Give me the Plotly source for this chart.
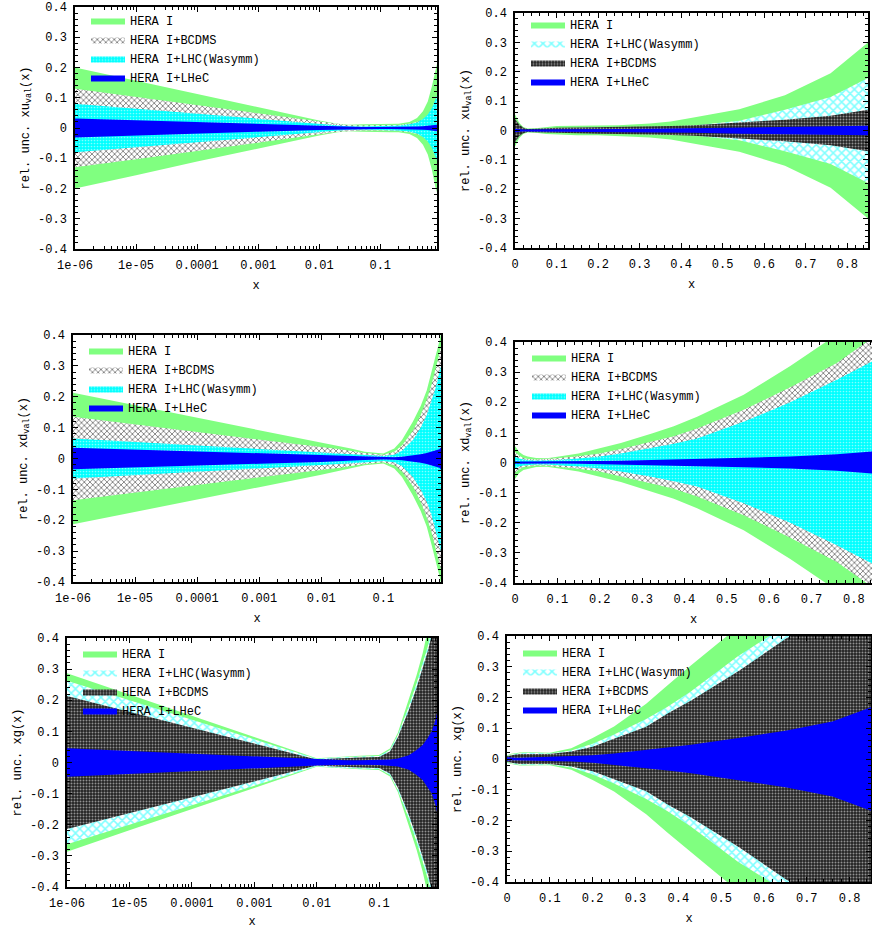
import numpy as np
import plotly.graph_objects as go

# ---------------- data (relative uncertainty half-widths, symmetric bands) -------------
X_LOG = [1e-6, 1e-5, 1e-4, 1e-3, 1e-2, 0.02, 0.03, 0.05, 0.1, 0.15, 0.2, 0.3, 0.4, 0.5, 0.6, 0.7, 0.8, 0.85]
X_LIN = [0.0, 0.005, 0.01, 0.02, 0.03, 0.05, 0.075, 0.1, 0.15, 0.2, 0.25, 0.325, 0.375, 0.43, 0.54, 0.65, 0.76, 0.85]

# panel 1: xu_val, log x
xu_log_hera = [0.200, 0.156, 0.111, 0.067, 0.025, 0.014, 0.011, 0.012, 0.014, 0.014, 0.014, 0.020, 0.033, 0.055, 0.088, 0.137, 0.195, 0.212]
xu_log_bcdms = [0.130, 0.103, 0.076, 0.049, 0.021, 0.012, 0.009, 0.008, 0.008, 0.009, 0.010, 0.014, 0.020, 0.028, 0.038, 0.050, 0.065, 0.072]
xu_log_lhc = [0.080, 0.0635, 0.047, 0.031, 0.015, 0.009, 0.006, 0.005, 0.006, 0.007, 0.008, 0.012, 0.018, 0.030, 0.045, 0.065, 0.095, 0.108]
xu_log_lhec = [0.031, 0.025, 0.0185, 0.012, 0.0065, 0.005, 0.004, 0.0035, 0.003, 0.003, 0.003, 0.004, 0.005, 0.006, 0.007, 0.008, 0.010, 0.011]

# panel 2: xu_val, linear x
xu_lin_hera = [0.055, 0.040, 0.026, 0.012, 0.007, 0.008, 0.012, 0.015, 0.016, 0.016, 0.018, 0.024, 0.031, 0.044, 0.072, 0.120, 0.195, 0.300]
xu_lin_lhc = [0.035, 0.025, 0.016, 0.007, 0.004, 0.005, 0.007, 0.008, 0.009, 0.010, 0.011, 0.012, 0.014, 0.017, 0.033, 0.071, 0.114, 0.179]
xu_lin_bcdms = [0.040, 0.030, 0.020, 0.009, 0.005, 0.006, 0.008, 0.009, 0.010, 0.011, 0.012, 0.013, 0.015, 0.018, 0.027, 0.037, 0.050, 0.071]
xu_lin_lhec = [0.006, 0.005, 0.004, 0.003, 0.003, 0.003, 0.003, 0.004, 0.004, 0.004, 0.005, 0.006, 0.007, 0.008, 0.011, 0.013, 0.015, 0.016]

# panel 3: xd_val, log x
xd_log_hera = [0.213, 0.173, 0.133, 0.093, 0.053, 0.040, 0.032, 0.022, 0.016, 0.032, 0.060, 0.120, 0.170, 0.220, 0.280, 0.330, 0.380, 0.405]
xd_log_bcdms = [0.135, 0.110, 0.086, 0.062, 0.037, 0.030, 0.025, 0.018, 0.012, 0.022, 0.042, 0.090, 0.140, 0.190, 0.240, 0.290, 0.340, 0.360]
xd_log_lhc = [0.065, 0.054, 0.043, 0.032, 0.021, 0.018, 0.016, 0.013, 0.008, 0.012, 0.025, 0.060, 0.100, 0.140, 0.185, 0.230, 0.280, 0.300]
xd_log_lhec = [0.035, 0.029, 0.023, 0.017, 0.011, 0.009, 0.007, 0.005, 0.003, 0.004, 0.006, 0.010, 0.014, 0.018, 0.022, 0.026, 0.030, 0.036]

# panel 4: xd_val, linear x
xd_lin_hera = [0.055, 0.045, 0.035, 0.025, 0.020, 0.015, 0.014, 0.019, 0.030, 0.047, 0.065, 0.097, 0.120, 0.152, 0.225, 0.320, 0.425, 0.500]
xd_lin_bcdms = [0.035, 0.028, 0.022, 0.015, 0.012, 0.010, 0.011, 0.014, 0.021, 0.030, 0.045, 0.070, 0.087, 0.113, 0.175, 0.250, 0.330, 0.420]
xd_lin_lhc = [0.020, 0.016, 0.013, 0.010, 0.008, 0.007, 0.007, 0.008, 0.013, 0.020, 0.030, 0.048, 0.062, 0.080, 0.135, 0.200, 0.275, 0.340]
xd_lin_lhec = [0.004, 0.003, 0.003, 0.003, 0.003, 0.003, 0.003, 0.003, 0.004, 0.005, 0.006, 0.008, 0.010, 0.012, 0.016, 0.020, 0.027, 0.037]

# panel 5: xg, log x
xg_log_hera = [0.287, 0.218, 0.149, 0.082, 0.014, 0.018, 0.020, 0.022, 0.024, 0.045, 0.095, 0.200, 0.280, 0.350, 0.420, 0.480, 0.530, 0.560]
xg_log_lhc = [0.263, 0.200, 0.137, 0.074, 0.012, 0.016, 0.018, 0.019, 0.021, 0.040, 0.088, 0.180, 0.255, 0.315, 0.370, 0.430, 0.490, 0.520]
xg_log_bcdms = [0.214, 0.163, 0.112, 0.061, 0.010, 0.013, 0.015, 0.016, 0.018, 0.035, 0.080, 0.168, 0.240, 0.300, 0.355, 0.410, 0.470, 0.500]
xg_log_lhec = [0.046, 0.037, 0.028, 0.019, 0.010, 0.008, 0.007, 0.007, 0.008, 0.010, 0.013, 0.023, 0.040, 0.056, 0.078, 0.100, 0.135, 0.158]

# panel 6: xg, linear x
xg_lin_hera = [0.012, 0.015, 0.017, 0.019, 0.021, 0.022, 0.021, 0.020, 0.035, 0.068, 0.106, 0.180, 0.240, 0.305, 0.430, 0.550, 0.660, 0.750]
xg_lin_lhc = [0.010, 0.013, 0.015, 0.017, 0.019, 0.020, 0.019, 0.018, 0.028, 0.050, 0.080, 0.130, 0.170, 0.220, 0.335, 0.430, 0.530, 0.620]
xg_lin_bcdms = [0.009, 0.011, 0.013, 0.015, 0.016, 0.017, 0.016, 0.016, 0.024, 0.040, 0.065, 0.105, 0.148, 0.190, 0.285, 0.390, 0.480, 0.570]
xg_lin_lhec = [0.006, 0.005, 0.004, 0.004, 0.004, 0.005, 0.005, 0.006, 0.008, 0.012, 0.018, 0.030, 0.037, 0.046, 0.068, 0.092, 0.122, 0.168]

# tick labels
Y_TICKVALS = [-0.4, -0.3, -0.2, -0.1, 0, 0.1, 0.2, 0.3, 0.4]
Y_TICKTEXT = ["-0.4", "-0.3", "-0.2", "-0.1", "0", "0.1", "0.2", "0.3", "0.4"]
XLOG_TICKVALS = [1e-6, 1e-5, 1e-4, 1e-3, 1e-2, 1e-1]
XLOG_TICKTEXT = ["1e-06", "1e-05", "0.0001", "0.001", "0.01", "0.1"]
XLIN_TICKVALS = [0, 0.1, 0.2, 0.3, 0.4, 0.5, 0.6, 0.7, 0.8]
XLIN_TICKTEXT = ["0", "0.1", "0.2", "0.3", "0.4", "0.5", "0.6", "0.7", "0.8"]

LABEL_HERA = "HERA I"
LABEL_BCDMS = "HERA I+BCDMS"
LABEL_LHC = "HERA I+LHC(Wasymm)"
LABEL_LHEC = "HERA I+LHeC"

# ---------------- styles ----------------
GREEN = "#80ff80"
CYAN = "#00ffff"
BLUE = "#0000ff"
FONT = "Liberation Mono, Courier New, monospace"

STY_HERA = dict(fillcolor=GREEN)
STY_LHEC = dict(fillcolor=BLUE)
STY_BCDMS_A = dict(fillcolor="white", fillpattern=dict(shape="x", fgcolor="black", bgcolor="white", size=4, solidity=0.4))
STY_LHC_A = dict(fillcolor=CYAN, fillpattern=dict(shape=".", fgcolor="white", bgcolor=CYAN, size=3, solidity=0.25))
STY_LHC_B = dict(fillcolor="white", fillpattern=dict(shape="x", fgcolor=CYAN, bgcolor="white", size=6, solidity=0.45))
STY_BCDMS_B = dict(fillcolor="#444444", fillpattern=dict(shape=".", fgcolor="white", bgcolor="#222222", size=3, solidity=0.35))

# panels: (xs, log?, ylabel, series in draw order, pixel box l,r,t,b, legend px x,y, xmax)
PANELS = [
    (X_LOG, True, "rel. unc. xu<sub>val</sub>(x)",
     [(LABEL_HERA, xu_log_hera, STY_HERA), (LABEL_BCDMS, xu_log_bcdms, STY_BCDMS_A),
      (LABEL_LHC, xu_log_lhc, STY_LHC_A), (LABEL_LHEC, xu_log_lhec, STY_LHEC)],
     (75, 437, 7, 249), (86, 6), 0.85),
    (X_LIN, False, "rel. unc. xu<sub>val</sub>(x)",
     [(LABEL_HERA, xu_lin_hera, STY_HERA), (LABEL_LHC, xu_lin_lhc, STY_LHC_B),
      (LABEL_BCDMS, xu_lin_bcdms, STY_BCDMS_B), (LABEL_LHEC, xu_lin_lhec, STY_LHEC)],
     (515, 868, 13, 248), (526, 10), 0.85),
    (X_LOG, True, "rel. unc. xd<sub>val</sub>(x)",
     [(LABEL_HERA, xd_log_hera, STY_HERA), (LABEL_BCDMS, xd_log_bcdms, STY_BCDMS_A),
      (LABEL_LHC, xd_log_lhc, STY_LHC_A), (LABEL_LHEC, xd_log_lhec, STY_LHEC)],
     (73, 441, 335, 582), (84, 336), 0.85),
    (X_LIN, False, "rel. unc. xd<sub>val</sub>(x)",
     [(LABEL_HERA, xd_lin_hera, STY_HERA), (LABEL_BCDMS, xd_lin_bcdms, STY_BCDMS_A),
      (LABEL_LHC, xd_lin_lhc, STY_LHC_A), (LABEL_LHEC, xd_lin_lhec, STY_LHEC)],
     (515, 872, 342, 583), (527, 343), 0.843),
    (X_LOG, True, "rel. unc. xg(x)",
     [(LABEL_HERA, xg_log_hera, STY_HERA), (LABEL_LHC, xg_log_lhc, STY_LHC_B),
      (LABEL_BCDMS, xg_log_bcdms, STY_BCDMS_B), (LABEL_LHEC, xg_log_lhec, STY_LHEC)],
     (67, 437, 638, 887), (78, 639), 0.85),
    (X_LIN, False, "rel. unc. xg(x)",
     [(LABEL_HERA, xg_lin_hera, STY_HERA), (LABEL_LHC, xg_lin_lhc, STY_LHC_B),
      (LABEL_BCDMS, xg_lin_bcdms, STY_BCDMS_B), (LABEL_LHEC, xg_lin_lhec, STY_LHEC)],
     (507, 871, 636, 882), (518, 638), 0.85),
]

W, H = 872, 929
fig = go.Figure()
layout = dict(width=W, height=H, margin=dict(l=0, r=0, t=0, b=0, autoexpand=False),
              paper_bgcolor="white", plot_bgcolor="white",
              font=dict(family=FONT, size=12, color="black"))

for i, (xs, islog, ylab, series, box, legpos, xmax) in enumerate(PANELS, start=1):
    sfx = "" if i == 1 else str(i)
    legname = "legend" if i == 1 else f"legend{i}"
    xs_arr = np.array(xs, dtype=float)
    for name, hw, sty in series:
        hw_arr = np.array(hw, dtype=float)
        xpoly = np.concatenate([xs_arr, xs_arr[::-1]])
        ypoly = np.concatenate([hw_arr, -hw_arr[::-1]])
        fig.add_trace(go.Scatter(
            x=xpoly, y=ypoly, mode="lines", fill="toself",
            line=dict(width=0), name=name, legend=legname,
            xaxis=f"x{sfx}", yaxis=f"y{sfx}", hoverinfo="skip", **sty))
    l, r, t, b = box
    xd = [l / W, min(r / W, 1.0)]
    yd = [1 - b / H, 1 - t / H]
    if islog:
        decs = range(-6, 0)
        minor_vals = [k * 10.0 ** d for d in decs for k in range(2, 10) if k * 10.0 ** d <= xmax]
        xax = dict(type="log", range=[np.log10(1e-6), np.log10(xmax)],
                   tickmode="array", tickvals=XLOG_TICKVALS, ticktext=XLOG_TICKTEXT,
                   minor=dict(tickmode="array", tickvals=minor_vals, ticks="inside", ticklen=3, tickcolor="black"))
    else:
        xax = dict(type="linear", range=[0, xmax],
                   tickmode="array", tickvals=XLIN_TICKVALS, ticktext=XLIN_TICKTEXT,
                   minor=dict(tickmode="linear", tick0=0, dtick=0.02, ticks="inside", ticklen=3, tickcolor="black"))
    xax.update(domain=xd, anchor=f"y{sfx}", showline=True, linecolor="black", linewidth=1.5,
               mirror="allticks", ticks="inside", ticklen=5, tickcolor="black",
               showgrid=False, zeroline=False, ticklabelstandoff=4, automargin=False,
               tickfont=dict(family=FONT, size=12),
               title=dict(text="x", font=dict(family=FONT, size=12), standoff=8))
    yax = dict(domain=yd, anchor=f"x{sfx}", range=[-0.4, 0.4],
               tickmode="array", tickvals=Y_TICKVALS, ticktext=Y_TICKTEXT,
               minor=dict(tickmode="linear", tick0=0, dtick=0.02, ticks="inside", ticklen=3, tickcolor="black"),
               showline=True, linecolor="black", linewidth=1.5,
               mirror="allticks" if r < W else False, ticks="inside", ticklen=5, tickcolor="black",
               showgrid=False, zeroline=False, ticklabelstandoff=4, automargin=False,
               tickfont=dict(family=FONT, size=12),
               title=dict(text=ylab, font=dict(family=FONT, size=12), standoff=6))
    layout[f"xaxis{sfx}"] = xax
    layout[f"yaxis{sfx}"] = yax
    lx, ly = legpos
    layout[legname] = dict(x=lx / W, y=1 - ly / H, xanchor="left", yanchor="top",
                           bgcolor="rgba(0,0,0,0)", borderwidth=0,
                           font=dict(family=FONT, size=12), traceorder="normal",
                           itemwidth=34, tracegroupgap=0)

fig.update_layout(**layout)
# remove the browser's default 8px body margin so the figure sits at the page origin
fig.write_html("out.html", config={"displayModeBar": False},
               post_script="document.body.style.margin='0';")
